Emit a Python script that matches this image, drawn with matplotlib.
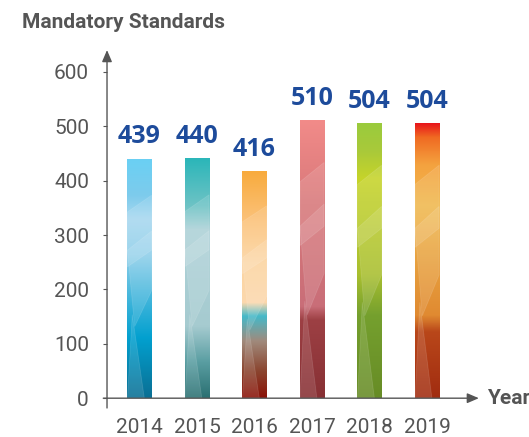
import numpy as np
import matplotlib
matplotlib.use("Agg")
import matplotlib.pyplot as plt
from matplotlib.colors import LinearSegmentedColormap
from matplotlib.patches import Polygon

years = ["2014", "2015", "2016", "2017", "2018", "2019"]
standards = [439, 440, 416, 510, 504, 504]
y_ticks = [0, 100, 200, 300, 400, 500, 600]

# colour stops per bar, bottom -> top
bar_stops = {
    "2014": [(0.0, "#0a6f94"), (0.25, "#02a0cf"), (0.45, "#4fbade"), (0.6, "#8fcfea"),
             (0.75, "#a8d8ef"), (0.85, "#7dcbec"), (1.0, "#6ad0f4")],
    "2015": [(0.0, "#2b7072"), (0.15, "#5a9ea2"), (0.3, "#a6cbd0"), (0.7, "#aed2d8"),
             (0.8, "#6ec3c5"), (1.0, "#2bb6b9")],
    "2016": [(0.0, "#8a1208"), (0.12, "#8b4630"), (0.25, "#a08a7c"), (0.36, "#45b9c9"),
             (0.42, "#fbd8ad"), (0.6, "#fcd4a0"), (0.8, "#fbc075"), (1.0, "#f8ab3d")],
    "2017": [(0.0, "#873034"), (0.28, "#9d4044"), (0.33, "#c96e78"), (0.7, "#d8787a"),
             (1.0, "#f28b89")],
    "2018": [(0.0, "#678c26"), (0.3, "#75a02e"), (0.45, "#a9bf30"), (0.8, "#c6d42a"),
             (0.9, "#a9c93a"), (1.0, "#9acb3d")],
    "2019": [(0.0, "#a12c10"), (0.24, "#b9471a"), (0.3, "#e08a31"), (0.7, "#f0b94f"),
             (0.85, "#f4a23f"), (0.95, "#f06a22"), (1.0, "#e8161b")],
}

# light facets inside each bar, as fractions of the bar (u across, v up)
facets = [
    [(0, 0.55), (1, 0.62), (1, 0.85), (0, 0.78)],
    [(0, 0.0), (0.7, 0.0), (0.2, 0.35)],
    [(0.3, 0.3), (1, 0.45), (1, 0.7), (0, 0.62)],
]

plt.rcParams["font.family"] = ["Roboto", "DejaVu Sans"]

fig = plt.figure(figsize=(5.29, 4.37), dpi=100)
ax = fig.add_axes([0.2023, 0.0664, 0.692, 0.819])

width = 0.42
x = np.arange(len(years))
grad = np.linspace(0, 1, 256).reshape(-1, 1)
for i, (yr, val) in enumerate(zip(years, standards)):
    cmap = LinearSegmentedColormap.from_list(yr, bar_stops[yr])
    left = x[i] - width / 2
    ax.imshow(grad, cmap=cmap, origin="lower", aspect="auto",
              extent=(left, left + width, 0, val), zorder=2)
    for f in facets:
        pts = [(left + u * width, v * val) for u, v in f]
        ax.add_patch(Polygon(pts, closed=True, facecolor="white", alpha=0.12,
                             edgecolor="white", linewidth=0.6, zorder=3))
    ax.annotate(str(val), (x[i], val), xytext=(0, 11.5), textcoords="offset points",
                ha="center", va="baseline", fontsize=18, fontweight="bold",
                color="#1d4b9b", family=["Open Sans", "DejaVu Sans"])

ax.set_xlim(-0.565, 5.8)
ax.set_ylim(-18, 640)

for s in ["top", "bottom", "left", "right"]:
    ax.spines[s].set_visible(False)

axis_col = "#555555"
# axis lines with arrow heads
ax.annotate("", xy=(-0.565, 640), xytext=(-0.565, -18),
            arrowprops=dict(arrowstyle="-|>,head_length=0.7,head_width=0.3",
                            color=axis_col, lw=1.0, shrinkA=0, shrinkB=0),
            annotation_clip=False)
ax.annotate("", xy=(5.9, 0), xytext=(-0.63, 0),
            arrowprops=dict(arrowstyle="-|>,head_length=0.7,head_width=0.3",
                            color=axis_col, lw=1.0, shrinkA=0, shrinkB=0),
            annotation_clip=False)

ax.set_yticks(y_ticks)
ax.set_yticklabels([str(t) for t in y_ticks])
ax.tick_params(axis="y", length=3, width=0.8, color=axis_col, pad=10,
               labelsize=15, labelcolor=axis_col)
ax.set_xticks(x)
ax.set_xticklabels(years)
ax.tick_params(axis="x", length=0, pad=7, labelsize=15, labelcolor=axis_col)

fig.text(22 / 529, 1 - 22 / 437, "Mandatory Standards", ha="left", va="center",
         fontsize=15, fontweight="bold", color=axis_col)
ax.annotate("Year", (5.9, 0), xytext=(6, 0), textcoords="offset points",
            ha="left", va="center", fontsize=15, fontweight="bold",
            color=axis_col, annotation_clip=False)

fig.savefig("out.png", dpi=100)
